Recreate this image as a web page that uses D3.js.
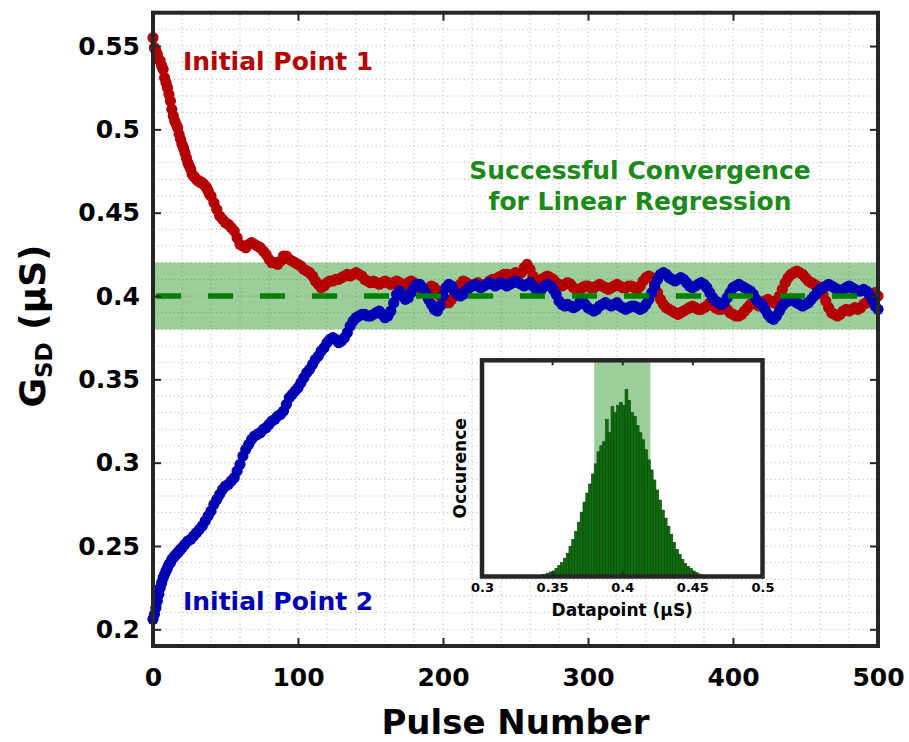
<!DOCTYPE html>
<html>
<head>
<meta charset="utf-8">
<script src="https://cdn.jsdelivr.net/npm/d3@7"></script>
<style>
  html, body { margin: 0; padding: 0; background: #fff; }
  svg { display: block; font-family: "DejaVu Sans", Verdana, sans-serif; font-weight: bold; }
</style>
</head>
<body>
<svg id="chart" width="909" height="742"></svg>
<script>
// ---- data -------------------------------------------------------------
// Red run: every pulse for 0..40, then every 2nd pulse up to 500
const redPulses = d3.range(0, 41).concat(d3.range(42, 501, 2));
const redSeries = [
  0.555,0.549,0.547,0.545,0.542,0.541,0.538,0.536,0.531,0.528,
  0.525,0.521,0.517,0.512,0.508,0.505,0.503,0.501,0.497,0.494,
  0.491,0.489,0.486,0.483,0.480,0.478,0.476,0.473,0.472,0.471,
  0.470,0.469,0.469,0.468,0.468,0.467,0.466,0.465,0.463,0.461,
  0.460,
  0.456,0.452,0.448,0.446,0.444,0.443,0.441,0.439,0.435,
  0.431,0.430,0.429,0.431,0.432,0.431,0.430,0.429,0.427,0.425,
  0.422,0.420,0.420,0.419,0.421,0.424,0.424,0.422,0.421,0.420,
  0.419,0.418,0.416,0.415,0.414,0.412,0.409,0.407,0.405,0.406,
  0.408,0.409,0.409,0.410,0.410,0.411,0.412,0.413,0.412,0.413,
  0.414,0.413,0.412,0.410,0.409,0.408,0.409,0.408,0.407,0.408,
  0.409,0.408,0.407,0.408,0.409,0.408,0.407,0.406,0.408,0.409,
  0.408,0.406,0.405,0.404,0.403,0.404,0.406,0.405,0.403,0.400,
  0.398,0.396,0.396,0.398,0.402,0.405,0.407,0.409,0.408,0.407,
  0.406,0.407,0.408,0.407,0.406,0.407,0.409,0.410,0.410,0.411,
  0.412,0.413,0.413,0.412,0.413,0.414,0.413,0.414,0.417,0.419,
  0.416,0.412,0.410,0.409,0.410,0.411,0.412,0.411,0.410,0.408,
  0.407,0.406,0.407,0.408,0.407,0.405,0.404,0.404,0.405,0.406,
  0.406,0.405,0.405,0.406,0.407,0.406,0.405,0.404,0.405,0.406,
  0.407,0.406,0.405,0.405,0.406,0.406,0.405,0.404,0.406,0.409,
  0.411,0.412,0.411,0.407,0.402,0.398,0.395,0.393,0.392,0.391,
  0.390,0.389,0.390,0.391,0.392,0.393,0.394,0.393,0.392,0.392,
  0.393,0.394,0.396,0.395,0.393,0.392,0.392,0.393,0.392,0.390,
  0.389,0.388,0.388,0.389,0.391,0.393,0.395,0.396,0.395,0.394,
  0.395,0.397,0.398,0.397,0.396,0.397,0.400,0.404,0.408,0.411,
  0.413,0.414,0.415,0.414,0.413,0.411,0.409,0.408,0.407,0.406,
  0.404,0.401,0.397,0.393,0.390,0.389,0.388,0.389,0.391,0.392,
  0.391,0.392,0.393,0.392,0.393,0.395,0.396,0.398,0.401,0.402,
  0.400
];

// Blue run: every pulse for 0..20, then every 2nd pulse up to 500
const bluePulses = d3.range(0, 21).concat(d3.range(22, 501, 2));
const blueSeries = [
  0.206,0.209,0.213,0.217,0.221,0.225,0.228,0.231,0.233,0.235,
  0.237,0.239,0.240,0.242,0.243,0.244,0.245,0.246,0.247,0.248,
  0.249,
  0.251,0.253,0.254,0.256,0.258,0.260,0.262,0.265,0.268,
  0.271,0.275,0.278,0.281,0.284,0.286,0.287,0.289,0.291,0.295,
  0.299,0.304,0.308,0.311,0.314,0.316,0.317,0.318,0.320,0.321,
  0.323,0.325,0.326,0.328,0.329,0.331,0.335,0.339,0.341,0.343,
  0.345,0.348,0.351,0.354,0.356,0.359,0.362,0.364,0.367,0.369,
  0.372,0.374,0.375,0.374,0.372,0.373,0.375,0.378,0.382,0.385,
  0.387,0.388,0.389,0.389,0.388,0.388,0.389,0.390,0.391,0.389,
  0.387,0.388,0.391,0.396,0.401,0.403,0.400,0.398,0.399,0.402,
  0.405,0.407,0.407,0.405,0.402,0.398,0.395,0.392,0.391,0.394,
  0.400,0.405,0.407,0.406,0.403,0.401,0.400,0.401,0.403,0.405,
  0.406,0.407,0.406,0.405,0.406,0.407,0.408,0.407,0.406,0.407,
  0.408,0.407,0.406,0.407,0.408,0.409,0.408,0.407,0.406,0.407,
  0.408,0.406,0.404,0.403,0.404,0.406,0.407,0.406,0.404,0.401,
  0.397,0.395,0.394,0.395,0.394,0.393,0.394,0.396,0.397,0.395,
  0.393,0.392,0.391,0.392,0.394,0.395,0.396,0.395,0.394,0.395,
  0.396,0.394,0.393,0.392,0.393,0.394,0.394,0.393,0.392,0.393,
  0.395,0.398,0.402,0.406,0.410,0.413,0.414,0.413,0.411,0.410,
  0.409,0.410,0.411,0.410,0.408,0.406,0.405,0.406,0.407,0.408,
  0.407,0.405,0.402,0.399,0.397,0.396,0.395,0.396,0.399,0.402,
  0.405,0.406,0.407,0.406,0.405,0.404,0.403,0.401,0.398,0.396,
  0.395,0.392,0.389,0.387,0.386,0.388,0.391,0.394,0.396,0.397,
  0.398,0.397,0.396,0.395,0.394,0.395,0.396,0.398,0.400,0.402,
  0.404,0.405,0.406,0.407,0.406,0.405,0.404,0.403,0.404,0.405,
  0.406,0.405,0.404,0.403,0.403,0.404,0.403,0.401,0.398,0.394,
  0.392
];

const targetValue = 0.4;
const bandLow = 0.38;
const bandHigh = 0.42;

const xTicks = [0, 100, 200, 300, 400, 500];
const xTickLabels = ["0", "100", "200", "300", "400", "500"];
const yTicks = [0.2, 0.25, 0.3, 0.35, 0.4, 0.45, 0.5, 0.55];
const yTickLabels = ["0.2", "0.25", "0.3", "0.35", "0.4", "0.45", "0.5", "0.55"];

// Inset histogram of converged datapoints (bin width 0.002 µS, first bin at 0.340)
const histBinStart = 0.340;
const histBinWidth = 0.002;
const histCounts = [
  10, 17, 23, 33, 45, 55, 80, 110, 140, 180,
  230, 300, 370, 450, 540, 640, 740, 830, 920, 1020,
  1120, 1240, 1300, 1340, 1560, 1430, 1690, 1630, 1700, 1730,
  1700, 1860, 1750, 1630, 1590, 1500, 1430, 1360, 1260, 1160,
  1060, 960, 860, 760, 660, 580, 500, 420, 340, 270,
  220, 170, 130, 100, 80, 55, 40, 25, 15, 8
];
const insetTicks = [0.3, 0.35, 0.4, 0.45, 0.5];
const insetTickLabels = ["0.3", "0.35", "0.4", "0.45", "0.5"];

// ---- colours ------------------------------------------------------------
const RED = "#b40000";
const BLUE = "#0000b4";
const GREEN = "#008000";
const GREEN_TEXT = "#1b8a1b";
const FRAME = "#262626";

// ---- main plot --------------------------------------------------------
const svg = d3.select("#chart");

const x = d3.scaleLinear().domain([0, 500]).range([153, 878]);
const y = d3.scaleLinear().domain([0.19, 0.57]).range([646, 12.7]);
const [x0, x1] = x.range();
const [yb, yt] = y.range();

// dotted grid
const grid = svg.append("g")
  .attr("stroke", "#bdbdbd")
  .attr("stroke-width", 1)
  .attr("stroke-dasharray", "1.2,3");
grid.selectAll("line.v").data(x.ticks(25)).join("line")
  .attr("x1", d => x(d)).attr("x2", d => x(d))
  .attr("y1", yb).attr("y2", yt);
grid.selectAll("line.h").data(y.ticks(38)).join("line")
  .attr("x1", x0).attr("x2", x1)
  .attr("y1", d => y(d)).attr("y2", d => y(d));

// convergence band
svg.append("rect")
  .attr("x", x0).attr("width", x1 - x0)
  .attr("y", y(bandHigh)).attr("height", y(bandLow) - y(bandHigh))
  .attr("fill", GREEN).attr("fill-opacity", 0.39);

// data markers
function drawSeries(pulses, values, color) {
  svg.append("g").selectAll("circle").data(values).join("circle")
    .attr("cx", (d, i) => x(pulses[i]))
    .attr("cy", d => y(d))
    .attr("r", 5.6)
    .attr("fill", color);
}
drawSeries(redPulses, redSeries, RED);
drawSeries(bluePulses, blueSeries, BLUE);

// target line
svg.append("line")
  .attr("x1", x0).attr("x2", x1)
  .attr("y1", y(targetValue)).attr("y2", y(targetValue))
  .attr("stroke", GREEN).attr("stroke-width", 5.5)
  .attr("stroke-dasharray", "25,27").attr("stroke-dashoffset", -3);

// axes (inward ticks on every side)
function styleAxis(g, fontSize) {
  g.select(".domain").remove();
  g.selectAll(".tick line").attr("stroke", FRAME).attr("stroke-width", 2);
  g.selectAll("text").attr("fill", "#000")
    .style("font-family", "'DejaVu Sans', Verdana, sans-serif")
    .style("font-weight", "bold").style("font-size", fontSize + "px");
}
svg.append("g").attr("transform", `translate(${x0},0)`)
  .call(d3.axisLeft(y).tickValues(yTicks).tickFormat((d, i) => yTickLabels[i])
    .tickSize(-8).tickPadding(13))
  .call(g => styleAxis(g, 25));
svg.append("g").attr("transform", `translate(${x1},0)`)
  .call(d3.axisRight(y).tickValues(yTicks).tickFormat("").tickSize(-8))
  .call(g => styleAxis(g, 25));
svg.append("g").attr("transform", `translate(0,${yb})`)
  .call(d3.axisBottom(x).tickValues(xTicks).tickFormat((d, i) => xTickLabels[i])
    .tickSize(-8).tickPadding(22))
  .call(g => styleAxis(g, 25));
svg.append("g").attr("transform", `translate(0,${yt})`)
  .call(d3.axisTop(x).tickValues(xTicks).tickFormat("").tickSize(-8))
  .call(g => styleAxis(g, 25));

// frame
svg.append("rect")
  .attr("x", x0).attr("y", yt).attr("width", x1 - x0).attr("height", yb - yt)
  .attr("fill", "none").attr("stroke", FRAME).attr("stroke-width", 4);

// axis titles
svg.append("text")
  .attr("x", (x0 + x1) / 2).attr("y", 734)
  .attr("text-anchor", "middle").attr("font-size", 34).attr("fill", "#000")
  .text("Pulse Number");

const yTitle = svg.append("text")
  .attr("transform", "translate(45,326) rotate(-90)")
  .attr("text-anchor", "middle").attr("font-size", 36).attr("fill", "#000");
yTitle.append("tspan").text("G");
yTitle.append("tspan").attr("font-size", 23).attr("dy", 7).text("SD");
yTitle.append("tspan").attr("dy", -7).text(" (µS)");

// annotations
svg.append("text").attr("x", 183).attr("y", 70)
  .attr("font-size", 25).attr("fill", RED).text("Initial Point 1");
svg.append("text").attr("x", 183).attr("y", 610)
  .attr("font-size", 25).attr("fill", BLUE).text("Initial Point 2");
svg.append("text").attr("x", 640).attr("y", 179)
  .attr("text-anchor", "middle").attr("font-size", 25).attr("fill", GREEN_TEXT)
  .text("Successful Convergence");
svg.append("text").attr("x", 640).attr("y", 210)
  .attr("text-anchor", "middle").attr("font-size", 25).attr("fill", GREEN_TEXT)
  .text("for Linear Regression");

// ---- inset histogram ----------------------------------------------------
const ix = d3.scaleLinear().domain([0.3, 0.5]).range([482, 762.5]);
const iy = d3.scaleLinear().domain([0, 2150]).range([576.5, 360.3]);
const [ix0, ix1] = ix.range();
const [iyb, iyt] = iy.range();

svg.append("rect")
  .attr("x", ix0).attr("y", iyt).attr("width", ix1 - ix0).attr("height", iyb - iyt)
  .attr("fill", "#fff");

svg.append("rect")
  .attr("x", ix(bandLow)).attr("width", ix(bandHigh) - ix(bandLow))
  .attr("y", iyt).attr("height", iyb - iyt)
  .attr("fill", GREEN).attr("fill-opacity", 0.39);

svg.append("g").selectAll("rect").data(histCounts).join("rect")
  .attr("x", (d, i) => ix(histBinStart + i * histBinWidth))
  .attr("width", (d, i) => ix(histBinStart + (i + 1) * histBinWidth) - ix(histBinStart + i * histBinWidth))
  .attr("y", d => iy(d))
  .attr("height", d => iyb - iy(d))
  .attr("fill", "#0f6f0f")
  .attr("stroke", "#064006")
  .attr("stroke-width", 0.6);

svg.append("g").attr("transform", `translate(0,${iyb})`)
  .call(d3.axisBottom(ix).tickValues(insetTicks).tickFormat((d, i) => insetTickLabels[i])
    .tickSize(-5).tickPadding(6))
  .call(g => styleAxis(g, 13));
svg.append("g").attr("transform", `translate(0,${iyt})`)
  .call(d3.axisTop(ix).tickValues(insetTicks).tickFormat("").tickSize(-5))
  .call(g => styleAxis(g, 13));

svg.append("rect")
  .attr("x", ix0).attr("y", iyt).attr("width", ix1 - ix0).attr("height", iyb - iyt)
  .attr("fill", "none").attr("stroke", FRAME).attr("stroke-width", 4.5);

svg.append("text").attr("x", (ix0 + ix1) / 2).attr("y", 616)
  .attr("text-anchor", "middle").attr("font-size", 17).attr("fill", "#000")
  .text("Datapoint (µS)");
svg.append("text")
  .attr("transform", `translate(466,${(iyt + iyb) / 2}) rotate(-90)`)
  .attr("text-anchor", "middle").attr("font-size", 17).attr("fill", "#000")
  .text("Occurence");
</script>
</body>
</html>
